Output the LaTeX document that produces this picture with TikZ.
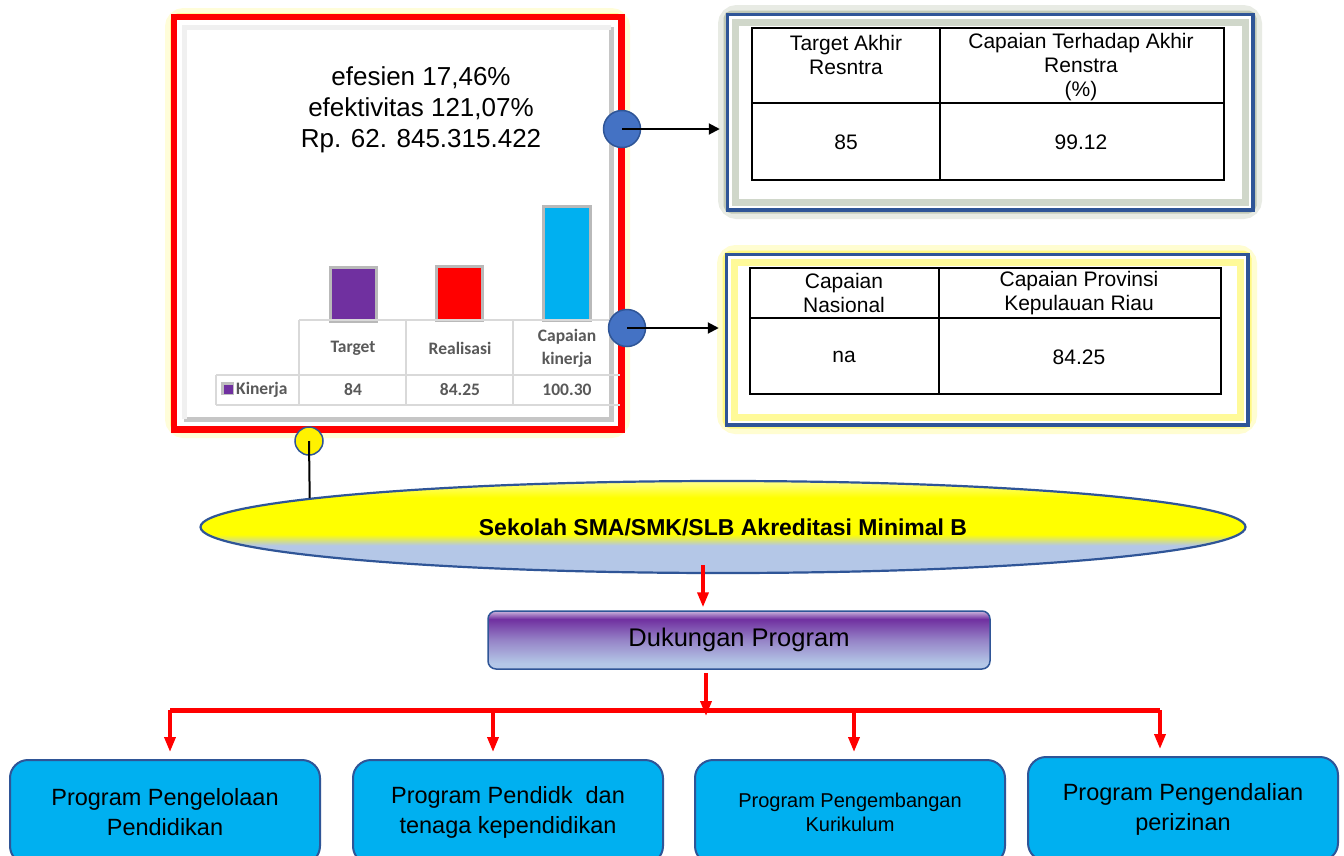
\documentclass[tikz,border=0pt]{standalone}
\usepackage{fontspec}
\setmainfont{Liberation Sans}
\newfontfamily\calibri{Carlito}
\usetikzlibrary{arrows.meta,positioning,shapes.geometric,calc,fit}

\definecolor{frameblue}{HTML}{2F5597}
\definecolor{lightblue}{HTML}{B4C7E7}
\definecolor{dukpurple}{HTML}{7030A0}
\definecolor{progcyan}{HTML}{00B0F0}
\definecolor{circblue}{HTML}{4472C4}
\definecolor{gridgray}{HTML}{D9D9D9}
\definecolor{labelgray}{HTML}{595959}
\definecolor{glowgreen}{HTML}{8A9A7B}

\pgfdeclareverticalshading{goalshade}{100bp}{color(0bp)=(lightblue); color(40bp)=(lightblue);
  color(46bp)=(yellow); color(66bp)=(yellow); color(75bp)=(yellow!45); color(100bp)=(yellow!45)}
\pgfdeclareverticalshading{supportshade}{100bp}{color(0bp)=(lightblue); color(30bp)=(lightblue);
  color(50bp)=(dukpurple!45!lightblue); color(68bp)=(dukpurple); color(75bp)=(dukpurple!35!white);
  color(100bp)=(dukpurple!35!white)}

\begin{document}
\begin{tikzpicture}[
  x=1pt, y=-1pt,
  font=\sffamily,
  panel/.style={draw=red, line width=4.5pt, fill=white, inner sep=0pt},
  infobox/.style={draw=frameblue, line width=2.5pt, fill=white, inner sep=0pt},
  dot/.style={circle, draw=frameblue, line width=1.5pt, fill=circblue, minimum size=37pt, inner sep=0pt},
  ydot/.style={circle, draw=frameblue, line width=1.5pt, fill=yellow, minimum size=28pt, inner sep=0pt},
  cell/.style={align=center, font=\fontsize{21}{24}\selectfont},
  lbl/.style={align=center, text=labelgray, font=\calibri\bfseries\fontsize{17.5}{23}\selectfont},
  goal/.style={ellipse, draw=frameblue, line width=2.2pt, shading=goalshade,
               minimum width=1045pt, minimum height=92pt, inner sep=0pt, font=\bfseries\fontsize{23}{26}\selectfont},
  support/.style={draw=frameblue, line width=1.5pt, rounded corners=8pt, shading=supportshade,
                  minimum width=502pt, minimum height=58pt, font=\fontsize{25.5}{30}\selectfont},
  prog/.style={draw=frameblue, line width=2pt, rounded corners=18pt, fill=progcyan, align=center,
               minimum width=310pt, minimum height=104pt, font=\fontsize{23.5}{30}\selectfont},
  link/.style={draw=black, line width=2pt, -{Triangle[length=11pt,width=11pt]}, shorten >=7pt},
  redlink/.style={draw=red, line width=3.5pt, -{Triangle[length=15pt,width=11pt]}}
]
\clip (0,0) rectangle (1344,855);
\fill[white] (0,0) rectangle (1344,855);

% chart panel
\draw[yellow!15, line width=20pt, rounded corners=9pt] (175,18) rectangle (620,428);
\draw[yellow!40, line width=10pt, rounded corners=4pt] (175,18) rectangle (620,428);
\node[panel, minimum width=445pt, minimum height=410pt] (chart) at (397.5,223) {};
\draw[gray!45, line width=5pt] (611,27) -- (611,419) -- (184,419);
\draw[gray!12, line width=5pt] (184,419) -- (184,27) -- (611,27);
\draw[red, line width=4.5pt] (chart.north west) rectangle (chart.south east);

\node[align=center, font=\fontsize{26}{31}\selectfont] (eff) at (421,110)
  {efesien 17,46\%\\efektivitas 121,07\%\\Rp. 62. 845.315.422};

% bars
\foreach \x/\y/\c in {330/267/dukpurple, 436/266/red}
  \draw[gray!55, line width=3pt, fill=\c] (\x,\y) rectangle ++(46,54);
\draw[gray!55, line width=3pt, fill=progcyan] (543,206) rectangle (590,320);

% data table
\draw[gridgray, line width=1.5pt] (299,320) -- (620,320) (216,375) -- (620,375) (216,405) -- (620,405)
  (299,320) -- (299,405) (406,320) -- (406,405) (513,320) -- (513,405) (216,375) -- (216,405);
\node[lbl] (h1) at (353,348) {Target};
\node[lbl] (h2) at (460,348) {Realisasi};
\node[lbl, font=\calibri\bfseries\fontsize{17.5}{23}\selectfont] (h3) at (567,348) {Capaian\\kinerja};
\fill[gray!50] (221,382) rectangle (234,395);
\fill[dukpurple] (224,385) rectangle (233,394);
\node[lbl, anchor=west, inner sep=1pt] (k0) at (235,390) {Kinerja};
\node[lbl] (k1) at (353,390) {84};
\node[lbl] (k2) at (460,390) {84.25};
\node[lbl] (k3) at (567,390) {100.30};

% target box
\draw[glowgreen!20, line width=20pt, rounded corners=9pt] (728,15) rectangle (1252,209);
\draw[glowgreen!55, line width=9pt, rounded corners=4pt] (728,15) rectangle (1252,209);
\node[infobox, minimum width=524pt, minimum height=194pt] (res) at (990,112) {};
\draw[glowgreen!40, line width=7pt] (735,22) rectangle (1245,202);
\draw[frameblue, line width=2.5pt] (res.north west) rectangle (res.south east);
\draw[black, line width=1.2pt] (752,28) rectangle (1224,180) (940,28) -- (940,180) (752,103) -- (1224,103);
\node[cell] (r1) at (846,55) {Target Akhir\\Resntra};
\node[cell] (r2) at (1081,67) {Capaian Terhadap Akhir\\Renstra\\(\%)};
\node[cell] (r3) at (846,142) {85};
\node[cell] (r4) at (1081,142) {99.12};

% province box
\draw[yellow!18, line width=20pt, rounded corners=9pt] (727,255) rectangle (1247,424);
\draw[yellow!50, line width=9pt, rounded corners=4pt] (727,255) rectangle (1247,424);
\node[infobox, minimum width=520pt, minimum height=169pt] (prov) at (987,339.5) {};
\draw[yellow!40, line width=7pt] (734,262) rectangle (1240,417);
\draw[frameblue, line width=2.5pt] (prov.north west) rectangle (prov.south east);
\draw[black, line width=1.2pt] (750,268) rectangle (1221,394) (939,268) -- (939,394) (750,318) -- (1221,318);
\draw[black, line width=2.5pt] (750,268) -- (1221,268);
\node[cell] (n1) at (844,293) {Capaian\\Nasional};
\node[cell] (n2) at (1079,293) {Capaian Provinsi\\Kepulauan Riau};
\node[cell] (n3) at (844,357) {na};
\node[cell] (n4) at (1079,357) {84.25};

% connectors from chart
\node[dot] (c1) at (622,129) {};
\node[dot] (c2) at (627,328) {};
\draw[link] (c1.center) -- (c1.center -| res.west);
\draw[link] (c2.center) -- (c2.center -| prov.west);

% goal and program tree
\node[goal] (sek) at (723,527) {Sekolah SMA/SMK/SLB Akreditasi Minimal B};
\node[ydot] (yc) at (309,441) {};
\draw[black, line width=2pt] (yc.center) -- (sek.176);

\node[support] (duk) at (739,640) {Dukungan Program};
\coordinate (a1) at (703,565);
\draw[redlink] (a1) -- ($(a1 |- duk.north)+(0,-3)$);

\node[prog] (p1) at (165,812) {Program Pengelolaan\\Pendidikan};
\node[prog] (p2) at (508,812) {Program Pendidk~ dan\\tenaga kependidikan};
\node[prog, font=\fontsize{20}{24}\selectfont] (p3) at (850,812) {Program Pengembangan\\Kurikulum};
\node[prog] (p4) at (1183,809) {Program Pengendalian\\perizinan};

\coordinate (hb) at (706,710);
\draw[red, line width=5pt] (170,710) -- (1160,710);
\draw[redlink] (hb |- duk.south) ++(0,3) -- ($(hb)+(0,6)$);
\foreach \x/\n in {170/p1, 493/p2, 854/p3, 1160/p4}
  \draw[redlink] (\x,710) -- ($(\x,0 |- \n.north)+(0,-7)$);
\end{tikzpicture}
\end{document}
